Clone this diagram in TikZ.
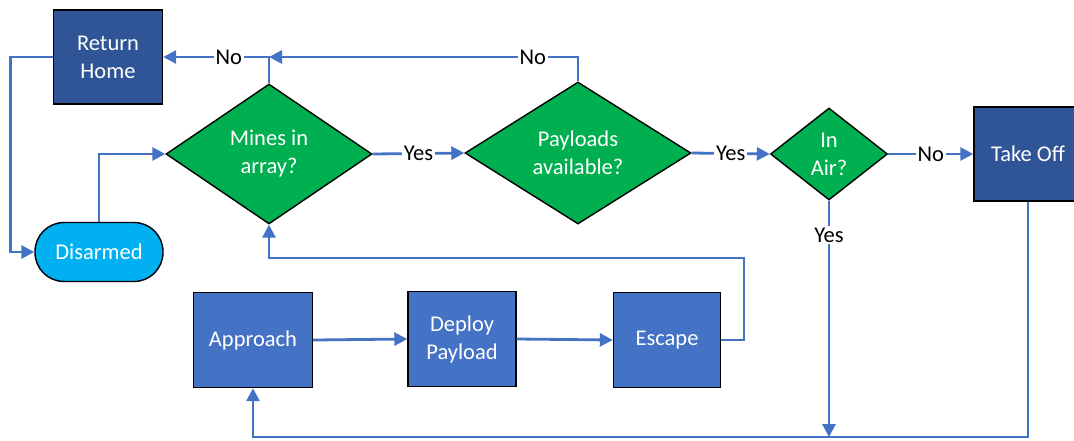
\documentclass[tikz,border=0pt]{standalone}
\usepackage{fontspec}
\setmainfont{Carlito}
\usetikzlibrary{arrows.meta,shapes.geometric}
\definecolor{darkbox}{HTML}{2F5597}
\definecolor{midbox}{HTML}{4472C4}
\definecolor{decide}{HTML}{00B050}
\definecolor{pill}{HTML}{00B0F0}
\definecolor{flowline}{HTML}{4472C4}
\begin{document}
\begin{tikzpicture}[x=1pt,y=-1pt,>={Triangle[length=13pt,width=13pt]},
        txt/.style={font=\fontsize{22.5}{28}\selectfont,align=center},
        box/.style={txt,draw=black,line width=1.4pt,text=white,inner sep=0pt},
        ask/.style={txt,diamond,draw=black,line width=1.4pt,fill=decide,text=white,inner sep=0pt},
        flow/.style={->,draw=flowline,line width=2.8pt},
        lbl/.style={txt,fill=white,text=black,inner sep=2pt}]
    \useasboundingbox (0,0) rectangle (1074,440);
    \node[box,fill=darkbox,minimum width=109pt,minimum height=94pt](ret)at(108,57){Return\\Home};
    \node[box,fill=pill,rounded corners=29pt,minimum width=128pt,minimum height=59pt](dis)at(99,252){Disarmed};
    \node[ask,aspect=1.47,minimum width=206pt,minimum height=140pt](mines)at(269,154){Mines in\\array?};
    \node[ask,aspect=1.6,minimum width=226pt,minimum height=142pt](pay)at(578,153){Payloads\\available?};
    \node[ask,aspect=1.27,minimum width=117pt,minimum height=92pt](air)at(829,154){In\\Air?};
    \node[box,fill=darkbox,minimum width=108pt,minimum height=94pt](take)at(1028,154){Take Off};
    \node[box,fill=midbox,minimum width=119pt,minimum height=95pt](app)at(253,340){Approach};
    \node[box,fill=midbox,minimum width=108pt,minimum height=95pt](dep)at(462,339){Deploy\\Payload};
    \node[box,fill=midbox,minimum width=107pt,minimum height=95pt](esc)at(667,340){Escape};
    \coordinate(topj)at(269,57);
    \coordinate(loop)at(744,258);
    \coordinate(bot)at(0,437);
    \coordinate(airend)at(829,437);
    \draw[flow](ret.west)--++(-42,0)|-(dis.west);
    \draw[flow](dis.north)|-(mines.west);
    \draw[flow](mines.east)--node[lbl]{Yes}(pay.west);
    \draw[flow](pay.east)--node[lbl]{Yes}(air.west);
    \draw[flow](air.east)--node[lbl]{No}(take.west);
    \draw[flow](mines.north)|-node[lbl,pos=0.69]{No}(ret.east);
    \draw[flow](pay.north)|-node[lbl,pos=0.573]{No}(topj);
    \draw[flow](air.south)--node[lbl,pos=0.145]{Yes}(airend);
    \draw[flow](take.south)--(take.south|-bot)-|(app.south);
    \draw[flow](app.east)--(dep.west);
    \draw[flow](dep.east)--(esc.west);
    \draw[flow](esc.east)-|(loop)-|(mines.south);
\end{tikzpicture}
\end{document}
